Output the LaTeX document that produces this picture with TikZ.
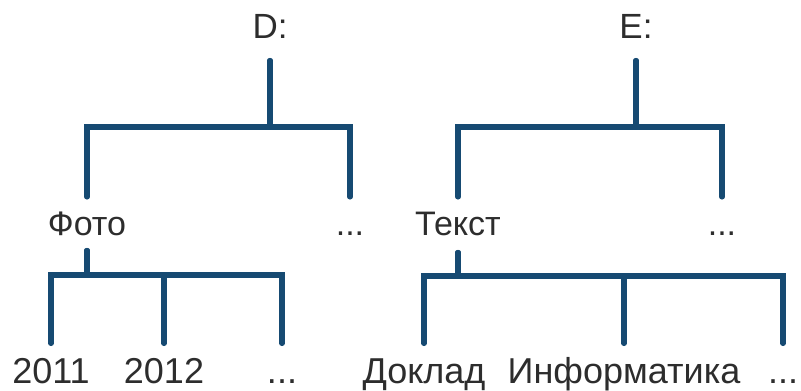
\documentclass[tikz,border=0pt]{standalone}
\usepackage{fontspec}
\setmainfont{Liberation Sans}
\definecolor{branchblue}{RGB}{22,74,114}
\definecolor{labelgrey}{RGB}{45,45,45}
\newcommand{\branchwidth}{5.5pt}

\begin{document}
\begin{tikzpicture}[x=1pt,y=-1pt,
    branch/.style={draw=branchblue,line width=\branchwidth,line cap=round},
    dirname/.style={text=labelgrey,inner sep=0pt,anchor=base,text height=26pt,text depth=0pt},
    drive/.style={dirname,font=\fontsize{35}{40}\selectfont},
    folder/.style={dirname,font=\fontsize{34}{39}\selectfont},
    leaf/.style={dirname,font=\fontsize{36}{40}\selectfont}]
  \useasboundingbox (0,0) rectangle (801,391);

  % drives
  \node[drive] (D) at (270,38) {D:};
  \node[drive] (E) at (636,38) {E:};

  % folders
  \node[folder] (foto)  at (87,235)  {Фото};
  \node[folder] (dotsD) at (350,235) {...};
  \node[folder] (tekst) at (458,235) {Текст};
  \node[folder] (dotsE) at (722,235) {...};

  % subfolders
  \node[leaf] (y2011)  at (51,383)  {2011};
  \node[leaf] (y2012)  at (164,383) {2012};
  \node[leaf] (dotsF)  at (282,383) {...};
  \node[leaf] (doklad) at (424,383) {Доклад};
  \node[leaf] (inform) at (624,383) {Информатика};
  \node[leaf] (dotsT)  at (783,383) {...};

  % bars
  \coordinate (Dbar) at (0,127);
  \coordinate (Ebar) at (0,127);
  \coordinate (fotobar) at (0,275);
  \coordinate (tekstbar) at (0,276);

  \foreach \kid in {foto,dotsD}
    \draw[branch,shorten <=22.5pt,shorten >=12pt] (D.south) -- (D.south |- Dbar) -| (\kid.north);
  \foreach \kid in {tekst,dotsE}
    \draw[branch,shorten <=22.5pt,shorten >=12pt] (E.south) -- (E.south |- Ebar) -| (\kid.north);
  \foreach \kid in {y2011,y2012,dotsF}
    \draw[branch,shorten <=15.5pt,shorten >=13.5pt] (foto.south) -- (foto.south |- fotobar) -| (\kid.north);
  \foreach \kid in {doklad,inform,dotsT}
    \draw[branch,shorten <=17.5pt,shorten >=13.5pt] (tekst.south) -- (tekst.south |- tekstbar) -| (\kid.north);
\end{tikzpicture}
\end{document}
